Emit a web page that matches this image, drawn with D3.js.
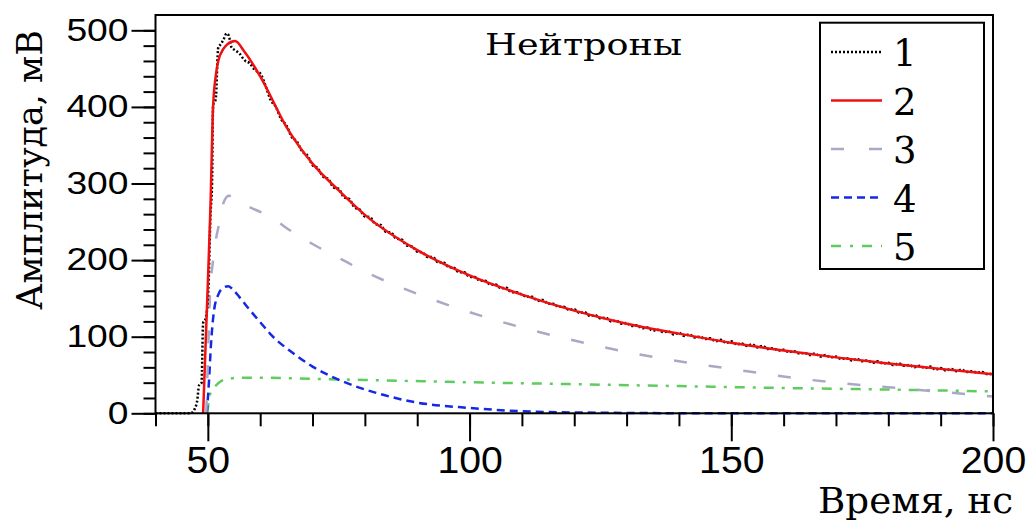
<!DOCTYPE html>
<html lang="en">
<head>
<meta charset="UTF-8">
<script src="https://cdn.jsdelivr.net/npm/d3@7"></script>
<title>Нейтроны</title>
<style>
    body { margin: 0; background: white; }
    .tick text { font-family: "Liberation Sans", Arial, sans-serif; fill: black; }
    .serif { font-family: "DejaVu Serif", serif; fill: black; }
</style>
</head>
<body>
<svg id="chart" width="1029" height="520"></svg>
<script>
// 1 - measured signal
const blackT = [40, 41, 42, 43, 44, 45, 46, 46.5, 47, 47.5, 48, 48.3, 48.8, 49.1, 49.6, 50.1, 50.5, 50.8, 51, 51.5, 52, 52.5, 53, 53.6, 54, 54.5, 55.2, 56, 57, 58, 59,
    60, 61, 62, 63, 64, 65, 66, 67, 68, 69, 70, 71, 72, 73, 74, 75, 76, 77, 78, 79, 80, 81, 82, 83, 84, 85, 86, 87, 88, 89,
    90, 91, 92, 93, 94, 95, 96, 97, 98, 99, 100, 101, 102, 103, 104, 105, 106, 107, 108, 109, 110, 111, 112, 113, 114, 115, 116, 117, 118, 119,
    120, 121, 122, 123, 124, 125, 126, 127, 128, 129, 130, 131, 132, 133, 134, 135, 136, 137, 138, 139, 140, 141, 142, 143, 144, 145, 146, 147, 148, 149,
    150, 151, 152, 153, 154, 155, 156, 157, 158, 159, 160, 161, 162, 163, 164, 165, 166, 167, 168, 169, 170, 171, 172, 173, 174, 175, 176, 177, 178, 179,
    180, 181, 182, 183, 184, 185, 186, 187, 188, 189, 190, 191, 192, 193, 194, 195, 196, 197, 198, 199, 200];
const blackV = [0, 0, 0, 0, 0, 0, 0, 0, 1, 6, 18, 36, 40, 118, 124, 162, 258, 300, 402, 410, 478, 482, 488, 496, 493, 478, 474, 470, 461, 457, 448,
    444, 428, 409, 400, 384, 376, 361, 355, 342, 337, 324, 320, 309, 306, 295, 293, 282, 280, 269, 266, 257, 256, 247, 246, 237, 236, 228, 227, 219, 218,
    211, 210, 204, 204, 197, 197, 191, 190, 184, 184, 178, 178, 173, 173, 168, 168, 163, 164, 158, 158, 155, 152, 152, 147, 148, 143, 143, 139, 139, 135,
    136, 131, 132, 127, 128, 124, 125, 120, 121, 117, 118, 114, 115, 111, 112, 108, 109, 106, 107, 103, 105, 101, 103, 99, 100, 97, 98, 94, 96, 92,
    94, 90, 91, 88, 90, 86, 88, 84, 85, 82, 83, 80, 81, 78, 79, 76, 78, 74, 76, 73, 74, 71, 72, 69, 71, 68, 69, 66, 68, 65,
    66, 63, 65, 62, 63, 60, 62, 59, 61, 57, 59, 56, 58, 55, 57, 54, 55, 53, 54, 51, 52];

// 2 - total fit
const fitT = [49.1, 50, 50.5, 51, 51.5, 52, 53, 53.6, 55.2, 57, 60, 65, 70, 75, 80, 90, 100, 110, 120, 130, 140, 150, 160, 170, 180, 190, 200];
const fitV = [0, 170, 270, 400, 440, 460, 476, 481, 486, 472, 440, 374, 326, 291, 259, 213, 180, 155, 134, 117, 104, 92, 82, 73, 65, 58, 51];

// 3 - slow component
const slowT = [49.7, 50.1, 50.4, 51, 52.3, 53, 54, 55, 56, 57, 60, 62, 65, 70, 75, 80, 90, 100, 110, 120, 130, 140, 150, 160, 170, 180, 190, 200];
const slowV = [0, 90, 152, 200, 252, 275, 284, 283, 278, 273, 263, 257, 242, 221, 203, 185, 156, 132, 112, 95, 80, 68, 58, 48, 40, 34, 28, 22];

// 4 - fast component
const fastT = [49.8, 50.2, 50.6, 51.2, 52, 53, 53.9, 55, 56, 58, 60, 62, 66, 70, 76, 82, 90, 100, 113, 130, 150, 200];
const fastV = [0, 40, 90, 135, 155, 164, 166, 160, 152, 135, 119, 103, 80, 61, 41, 27, 14, 7, 2, 0.5, 0, 0];

// 5 - long component
const longT = [49.9, 50.2, 50.6, 51.5, 52.5, 54, 56, 60, 70, 80, 100, 120, 140, 160, 180, 200];
const longV = [0, 18, 28, 36, 42, 45, 46.5, 46.5, 45, 43.5, 40.5, 38, 35.5, 33, 31, 28.5];

const xMajor = [50, 100, 150, 200];
const yMajor = [0, 100, 200, 300, 400, 500];
const legendLabels = ["1", "2", "3", "4", "5"];

const svg = d3.select("#chart");
const L = 155.5, R = 993, T = 15, B = 413.3;

const x = d3.scaleLinear().domain([40, 200]).range([L, R]);
const y = d3.scaleLinear().domain([0, 520]).range([B, T]);

// minor ticks
svg.append("g").attr("transform", `translate(0,${B})`)
    .call(d3.axisBottom(x).tickValues(d3.range(40, 201, 10)).tickSize(13).tickFormat(""))
    .call(g => g.select(".domain").remove())
    .call(g => g.selectAll("line").attr("stroke-width", 2));
svg.append("g").attr("transform", `translate(${L},0)`)
    .call(d3.axisLeft(y).tickValues(d3.range(0, 501, 20)).tickSize(12).tickFormat(""))
    .call(g => g.select(".domain").remove())
    .call(g => g.selectAll("line").attr("stroke-width", 2));

// major ticks + labels
const xAxis = svg.append("g").attr("transform", `translate(0,${B})`)
    .call(d3.axisBottom(x).tickValues(xMajor).tickSize(28).tickPadding(5))
    .call(g => g.select(".domain").remove())
    .call(g => g.selectAll("line").attr("stroke-width", 2));
xAxis.selectAll("text").attr("font-size", 37)
    .attr("textLength", d => String(d).length * 21.8).attr("lengthAdjust", "spacingAndGlyphs");

const yAxis = svg.append("g").attr("transform", `translate(${L},0)`)
    .call(d3.axisLeft(y).tickValues(yMajor).tickSize(24).tickPadding(3))
    .call(g => g.select(".domain").remove())
    .call(g => g.selectAll("line").attr("stroke-width", 2));
yAxis.selectAll("text").attr("font-size", 30.5)
    .attr("textLength", d => String(d).length * 20.7).attr("lengthAdjust", "spacingAndGlyphs");

// curves
const series = [
    {t: longT, v: longV, color: "#5fcc5f", dash: "10,8,3,8", legDash: "10,9,3,9", w: 2.5},
    {t: fastT, v: fastV, color: "#1428e6", dash: "8,5", legDash: "8,5", w: 2.5},
    {t: slowT, v: slowV, color: "#a9a9c6", dash: "13,22", legDash: "13,25", w: 2.5},
    {t: blackT, v: blackV, color: "#000000", dash: "2,2", legDash: "2,2", w: 2.5},
    {t: fitT, v: fitV, color: "#f01010", dash: null, legDash: null, w: 2.5}
];
const line = d3.line().x(d => x(d[0])).y(d => y(d[1])).curve(d3.curveMonotoneX);
series.forEach(s => {
    svg.append("path")
        .datum(s.t.map((t, i) => [t, s.v[i]]))
        .attr("fill", "none")
        .attr("stroke", s.color)
        .attr("stroke-width", s.w)
        .attr("stroke-dasharray", s.dash)
        .attr("d", line);
});

// frame
svg.append("rect").attr("x", L).attr("y", T).attr("width", R - L).attr("height", B - T)
    .attr("fill", "none").attr("stroke", "black").attr("stroke-width", 2);

// title
svg.append("text").attr("class", "serif").attr("x", 485).attr("y", 55)
    .attr("font-size", 30).attr("textLength", 197).attr("lengthAdjust", "spacingAndGlyphs")
    .text("Нейтроны");

// legend
const lg = svg.append("g");
lg.append("rect").attr("x", 820).attr("y", 22.7).attr("width", 164).attr("height", 246.3)
    .attr("fill", "white").attr("stroke", "black").attr("stroke-width", 2);
const legendStyle = [series[3], series[4], series[2], series[1], series[0]];
legendLabels.forEach((lab, i) => {
    const ry = 52 + i * 48.5;
    const s = legendStyle[i];
    lg.append("line").attr("x1", 831).attr("x2", 882).attr("y1", ry).attr("y2", ry)
        .attr("stroke", s.color).attr("stroke-width", s.w).attr("stroke-dasharray", s.legDash);
    lg.append("text").attr("class", "serif").attr("x", 893).attr("y", ry + 14)
        .attr("font-size", 37).text(lab);
});

// axis titles
svg.append("text").attr("class", "serif")
    .attr("transform", "translate(41.7,170) rotate(-90)")
    .attr("text-anchor", "middle").attr("font-size", 36)
    .attr("textLength", 280).attr("lengthAdjust", "spacingAndGlyphs")
    .text("Амплитуда, мВ");
svg.append("text").attr("class", "serif")
    .attr("x", 818).attr("y", 513).attr("font-size", 35)
    .attr("textLength", 195).attr("lengthAdjust", "spacingAndGlyphs")
    .text("Время, нс");
</script>
</body>
</html>
